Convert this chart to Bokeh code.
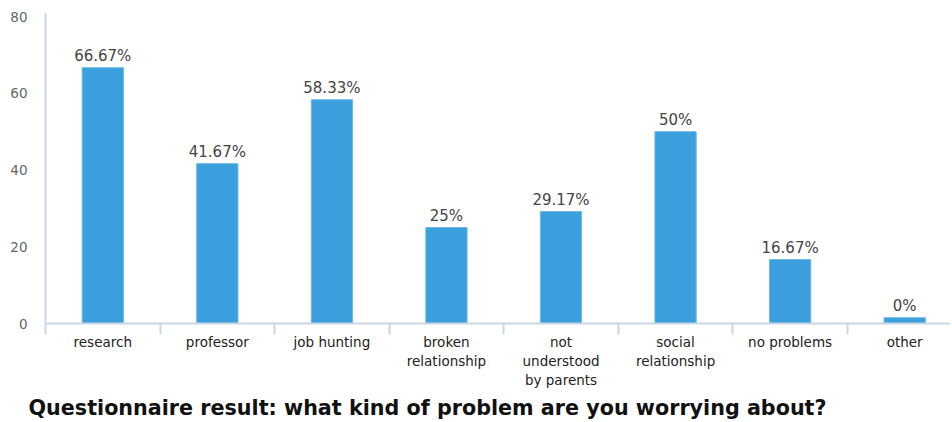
from bokeh.plotting import figure
from bokeh.models import Range1d, FixedTicker, ColumnDataSource, LabelSet, Title
from bokeh.core.properties import value
from bokeh.embed import file_html
from bokeh.resources import INLINE

categories = ["research", "professor", "job hunting", "broken\nrelationship",
              "not\nunderstood\nby parents", "social\nrelationship", "no problems", "other"]
bar_heights = [66.67, 41.67, 58.33, 25, 29.17, 50, 16.67, 1.5]
value_labels = ["66.67%", "41.67%", "58.33%", "25%", "29.17%", "50%", "16.67%", "0%"]
y_ticks = [0, 20, 40, 60, 80]
title_text = "Questionnaire result: what kind of problem are you worrying about?"

FONT = "DejaVu Sans"
centers = [i + 0.5 for i in range(len(categories))]

p = figure(width=950, height=422, output_backend="svg", toolbar_location=None,
           x_range=Range1d(0, 7.90), y_range=Range1d(0, 80.8),
           min_border_left=45, min_border_right=0, min_border_top=13, min_border_bottom=98)
p.outline_line_color = None
p.xgrid.grid_line_color = None
p.ygrid.grid_line_color = None

src = ColumnDataSource(dict(x=centers, top=bar_heights, lab=value_labels, name=categories))
p.vbar(x="x", top="top", width=0.36, source=src, fill_color="#3a9fdc", line_color="#6cb8e6", line_width=1)

labels = LabelSet(x="x", y="top", text="lab", source=src, text_align="center",
                  text_baseline="middle", y_offset=12, text_font_size=value("15px"),
                  text_color=value("#444444"), text_font=value(FONT))
p.add_layout(labels)

ax = p.xaxis[0]
ax.ticker = FixedTicker(ticks=centers, minor_ticks=list(range(len(categories) + 1)))
ax.major_label_overrides = {c: n for c, n in zip(centers, categories)}
ax.major_tick_out = 0
ax.major_tick_in = 0
ax.minor_tick_out = 11
ax.minor_tick_in = 0
ax.minor_tick_line_color = "#c9d6e6"
ax.minor_tick_line_width = 2
ax.axis_line_color = "#c9d6e6"
ax.axis_line_width = 2
ax.major_label_standoff = -1
ax.major_label_text_font = FONT
ax.major_label_text_font_size = "13.5px"
ax.major_label_text_color = "#222222"

ay = p.yaxis[0]
ay.ticker = FixedTicker(ticks=y_ticks)
ay.major_tick_out = 0
ay.major_tick_in = 0
ay.minor_tick_out = 0
ay.minor_tick_in = 0
ay.axis_line_color = "#c9d6e6"
ay.axis_line_width = 2
ay.major_label_standoff = 18
ay.major_label_text_font = FONT
ay.major_label_text_font_size = "13.5px"
ay.major_label_text_color = "#666666"

title = Title(text=title_text, align="left", offset=-17, text_font=FONT,
              text_font_size="20.7px", text_font_style="bold",
              text_color="#111111", standoff=6)
p.add_layout(title, "below")

open("out.html", "w").write(file_html(p, INLINE))
